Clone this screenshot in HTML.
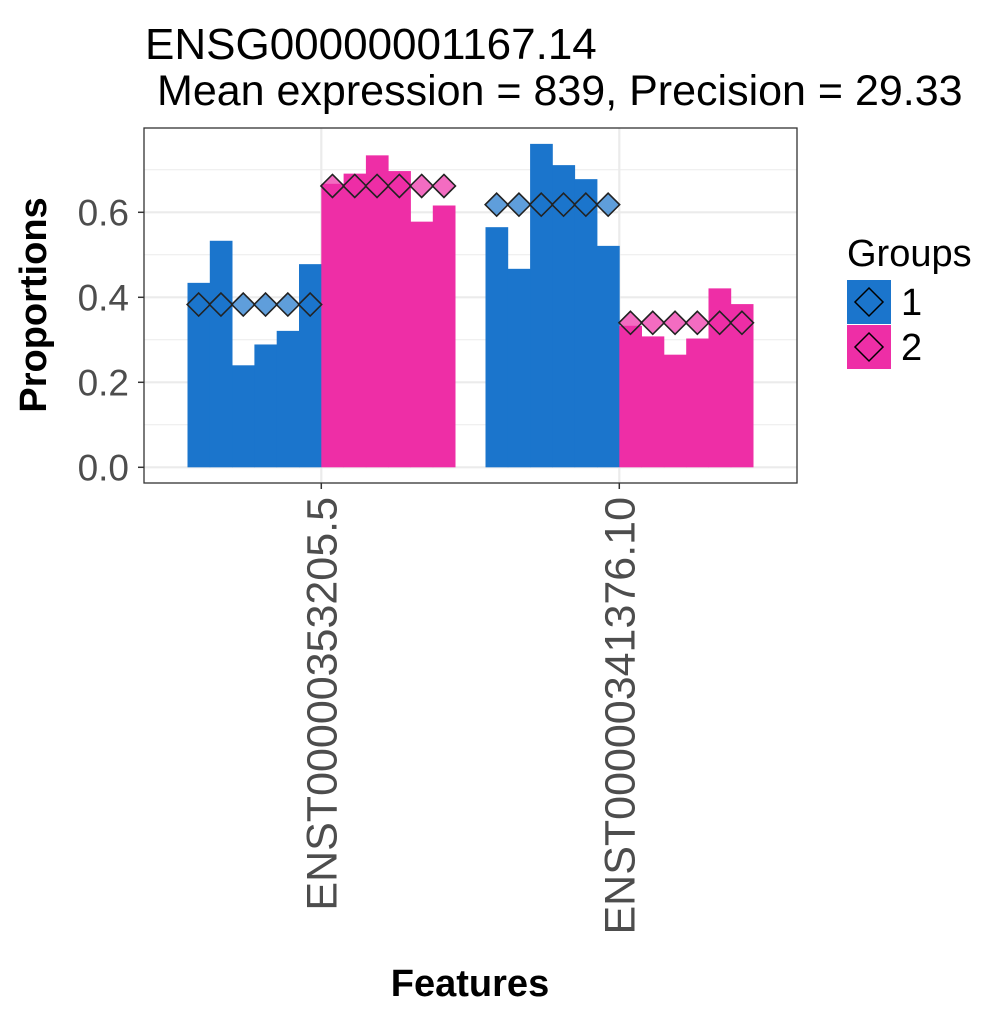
<!DOCTYPE html>
<html><head><meta charset="utf-8"><style>body{margin:0;background:#fff}svg{display:block;font-family:"Liberation Sans",Arial,sans-serif}</style></head>
<body>
<svg id="c" width="1000" height="1009" viewBox="0 0 1000 1009">
<text x="145" y="59" font-size="44" fill="#000">ENSG00000001167.14</text>
<text x="157" y="105" font-size="43" fill="#000">Mean expression = 839, Precision = 29.33</text>
<rect x="144" y="128" width="653" height="355" fill="#fff"/>
<g id="grid"></g><g id="bars"></g><g id="pts"></g>
<rect x="144" y="128" width="653" height="355" fill="none" stroke="#333" stroke-width="1.3"/>
<g id="axes"></g>
<text transform="translate(46,305) rotate(-90)" text-anchor="middle" font-size="38" font-weight="bold">Proportions</text>
<text x="470" y="996" text-anchor="middle" font-size="38" font-weight="bold">Features</text>
<g>
<text x="847" y="266" font-size="38">Groups</text>
<rect x="847" y="280" width="44" height="44" fill="#1b75cc"/>
<path d="M869,288 L883,302 L869,316 L855,302Z" fill="none" stroke="#000" stroke-width="1.5"/>
<text x="901" y="315" font-size="38">1</text>
<rect x="847" y="325" width="44" height="44" fill="#ee2ea6"/>
<path d="M869,333 L883,347 L869,361 L855,347Z" fill="none" stroke="#000" stroke-width="1.5"/>
<text x="901" y="360" font-size="38">2</text>
</g>
</svg>
<script>
const features=["ENST00000353205.5","ENST00000341376.10"];
const g1f1=[0.434,0.533,0.240,0.289,0.321,0.478];
const g2f1=[0.667,0.691,0.734,0.697,0.578,0.616];
const g1f2=[0.565,0.467,0.761,0.711,0.678,0.521];
const g2f2=[0.333,0.308,0.265,0.303,0.421,0.384];
const meanG1=[0.383,0.618];
const meanG2=[0.662,0.340];
const yTicks=[0,0.2,0.4,0.6];
const yTickLabels=["0.0","0.2","0.4","0.6"];
const yMinor=[0.1,0.3,0.5,0.7];
const NS="http://www.w3.org/2000/svg";
const y=v=>467.3-v*425;
const xc=i=>321.3+i*298;
const bw=22.3;
function mk(t,a,p){const e=document.createElementNS(NS,t);for(const k in a)e.setAttribute(k,a[k]);document.getElementById(p).appendChild(e);return e;}
yMinor.forEach(v=>{const l=mk('line',{x1:144,x2:797,y1:y(v),y2:y(v),stroke:'#ebebeb','stroke-width':1},'grid');

});
yTicks.forEach((v,i)=>{const l=mk('line',{x1:144,x2:797,y1:y(v),y2:y(v),stroke:'#ebebeb','stroke-width':2.2},'grid');


const t=mk('line',{x1:138,x2:144,y1:y(v),y2:y(v),stroke:'#333','stroke-width':1.5},'axes');


const tx=mk('text',{x:129,y:y(v)+13,'text-anchor':'end','font-size':37,fill:'#4d4d4d'},'axes');tx.textContent=yTickLabels[i];

});
features.forEach((f,i)=>{const l=mk('line',{x1:xc(i),x2:xc(i),y1:128,y2:483,stroke:'#ebebeb','stroke-width':2.2},'grid');


const t=mk('line',{x1:xc(i),x2:xc(i),y1:483,y2:489,stroke:'#333','stroke-width':1.5},'axes');


const tx=mk('text',{transform:`translate(${xc(i)+15},497) rotate(-90)`,'text-anchor':'end','font-size':43,fill:'#4d4d4d'},'axes');tx.textContent=f;

});
const sets=[[g1f1,0,-1,'#1b75cc',meanG1[0]],[g2f1,0,0,'#ee2ea6',meanG2[0]],[g1f2,1,-1,'#1b75cc',meanG1[1]],[g2f2,1,0,'#ee2ea6',meanG2[1]]];
sets.forEach(([vals,fi,side,col,m])=>{const x0=xc(fi)+side*6*bw;
vals.forEach((v,j)=>{const r=mk('rect',{x:x0+j*bw,y:y(v),width:bw+0.4,height:y(0)-y(v),fill:col},'bars');

});
vals.forEach((v,j)=>{const cx=x0+(j+0.5)*bw,cy=y(m),s=11.5;
const p=mk('path',{d:`M${cx},${cy-s} L${cx+s},${cy} L${cx},${cy+s} L${cx-s},${cy}Z`,fill:col,'fill-opacity':0.7,stroke:'#222','stroke-width':1.6},'pts');

});});
</script>
</body></html>
